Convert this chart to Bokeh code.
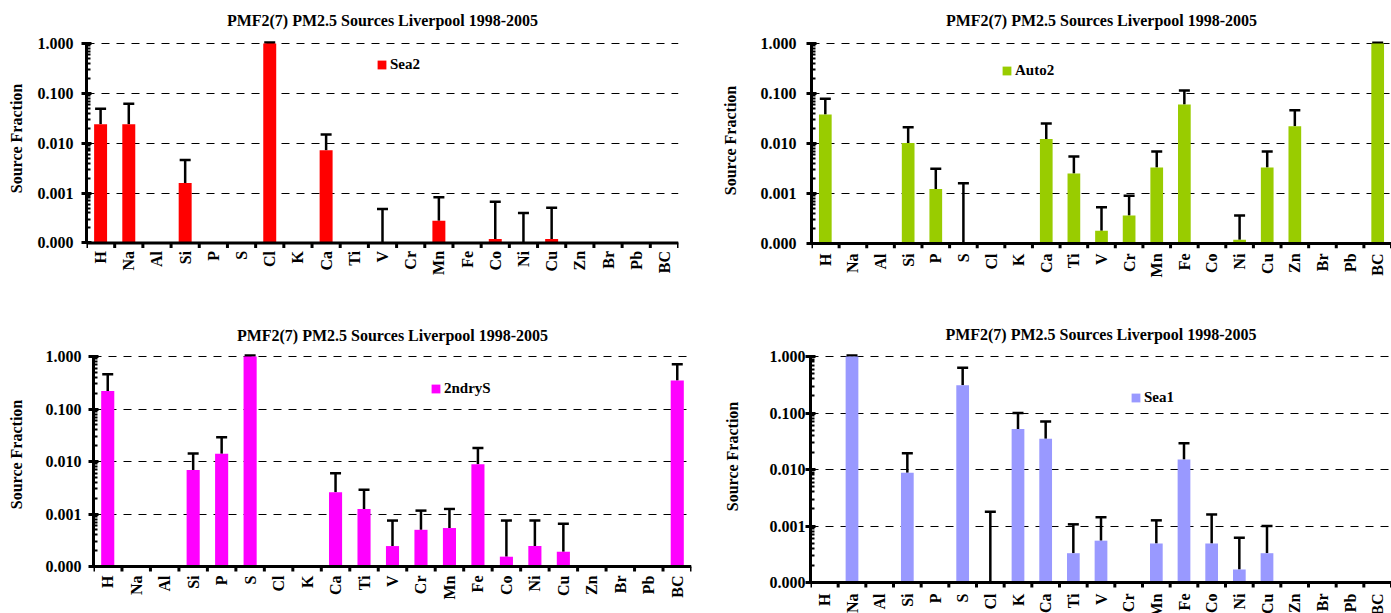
import math
from bokeh.plotting import figure
from bokeh.models import (ColumnDataSource, Whisker, TeeHead, FixedTicker,
                          NumeralTickFormatter, Range1d, Legend, LegendItem, Span)
from bokeh.core.properties import value
from bokeh.layouts import column, row
from bokeh.embed import file_html
from bokeh.resources import INLINE

# ---------------- data ----------------
categories = ["H", "Na", "Al", "Si", "P", "S", "Cl", "K", "Ca", "Ti", "V",
              "Cr", "Mn", "Fe", "Co", "Ni", "Cu", "Zn", "Br", "Pb", "BC"]
title_text = "PMF2(7) PM2.5 Sources Liverpool 1998-2005"
y_label = "Source Fraction"
y_ticks = [0.0001, 0.001, 0.01, 0.1, 1.0]

sea2 = [0.024, 0.024, 0, 0.0016, 0, 0, 1.0, 0, 0.0072, 0, 0,
        0, 0.00028, 0, 0.00012, 0, 0.00012, 0, 0, 0, 0]
sea2_hi = [0.049, 0.062, None, 0.0046, None, None, 1.04, None, 0.015, None, 0.00048,
           None, 0.00083, None, 0.00067, 0.0004, 0.00051, None, None, None, None]

auto2 = [0.038, 0, 0, 0.0102, 0.00122, 0, 0, 0, 0.0123, 0.0025, 0.00018,
         0.00036, 0.0033, 0.06, 0, 0.000118, 0.0033, 0.022, 0, 0, 1.0]
auto2_hi = [0.078, None, None, 0.021, 0.0031, 0.0016, None, None, 0.025, 0.0055, 0.00053,
            0.0009, 0.0069, 0.115, None, 0.00036, 0.0069, 0.046, None, None, 1.03]

ndry_s = [0.22, 0, 0, 0.0069, 0.014, 1.0, 0, 0, 0.0026, 0.00125, 0.000245,
          0.0005, 0.00054, 0.0089, 0.000154, 0.000245, 0.00019, 0, 0, 0, 0.35]
ndry_s_hi = [0.46, None, None, 0.0142, 0.029, 1.04, None, None, 0.006, 0.0029, 0.00075,
             0.00116, 0.00125, 0.018, 0.00075, 0.00075, 0.00065, None, None, None, 0.71]

sea1 = [0, 1.0, 0, 0.0088, 0, 0.31, 0, 0.052, 0.035, 0.00033, 0.00055,
        0, 0.00049, 0.015, 0.00049, 0.00017, 0.00033, 0, 0, 0, 0]
sea1_hi = [None, 1.04, None, 0.0194, None, 0.63, 0.00178, 0.1, 0.071, 0.00107, 0.00143,
           None, 0.00126, 0.029, 0.0016, 0.00062, 0.001, None, None, None, None]

FONT = "Liberation Serif"
Y_MIN, Y_MAX = y_ticks[0], y_ticks[-1]
TOP_PAD = 5  # px of frame kept above the 1.000 line so caps are not clipped


def make_panel(name, values, highs, color, g):
    n = len(categories)
    decades = math.log10(Y_MAX / Y_MIN)
    frame_h = g["h"] - (g["t"] - TOP_PAD)
    px_per_dec = g["main"] / decades
    below_px = frame_h - TOP_PAD - g["main"]
    y_start = Y_MIN / 10 ** (below_px / px_per_dec)
    y_end = Y_MAX * 10 ** (TOP_PAD / px_per_dec)

    p = figure(width=g["w"], height=g["h"], y_axis_type="log",
               x_axis_location=None,
               x_range=Range1d(0, n), y_range=Range1d(y_start, y_end),
               output_backend="svg", toolbar_location=None,
               min_border_left=g["l"], min_border_right=g["r"],
               min_border_top=g["t"] - TOP_PAD, min_border_bottom=0,
               title=title_text)
    p.outline_line_color = None
    p.background_fill_color = "white"
    p.border_fill_color = "white"

    p.title.text_font = FONT
    p.title.text_font_style = "bold"
    p.title.text_font_size = "16px"
    p.title.align = "center"
    p.title.text_color = "black"
    p.title.standoff = g["ts"]

    centers = [i + 0.5 for i in range(n)]
    bounds = [float(i) for i in range(n + 1)]

    xs = [centers[i] for i, v in enumerate(values) if v > 0]
    tops = [v for v in values if v > 0]
    src = ColumnDataSource(dict(x=xs, top=tops))
    bars = p.vbar(x="x", top="top", bottom=Y_MIN, width=0.46, source=src,
                  fill_color=color, line_color=None)

    wb = [centers[i] for i, h in enumerate(highs) if h is not None]
    wl = [max(values[i], Y_MIN) for i, h in enumerate(highs) if h is not None]
    wu = [h for h in highs if h is not None]
    wsrc = ColumnDataSource(dict(base=wb, lower=wl, upper=wu))
    w = Whisker(base="base", lower="lower", upper="upper", source=wsrc,
                dimension="height", line_color="black", line_width=2.5,
                upper_head=TeeHead(size=11, line_color="black", line_width=2.5),
                lower_head=None)
    p.add_layout(w)

    # category axis drawn at the 0.000 level: line, boundary ticks, rotated names
    p.add_layout(Span(location=Y_MIN, dimension="width", line_color="black",
                      line_width=3))
    tick_end = Y_MIN / 10 ** (5 / px_per_dec)
    p.segment(x0=bounds, y0=[Y_MIN] * (n + 1), x1=bounds, y1=[tick_end] * (n + 1),
              line_color="black", line_width=3)
    lsrc = ColumnDataSource(dict(x=centers, y=[Y_MIN] * n, text=categories))
    p.text(x="x", y="y", text="text", source=lsrc, angle=math.pi / 2,
           y_offset=g["xs"], text_align="right", text_baseline="middle",
           text_font=value(FONT), text_font_style="bold",
           text_font_size="16px", text_color="black")

    minors = []
    for t in y_ticks[:-1]:
        minors += [t * k for k in range(2, 10)]
    ya = p.yaxis[0]
    ya.bounds = (Y_MIN, Y_MAX)
    ya.ticker = FixedTicker(ticks=y_ticks, minor_ticks=minors)
    ya.formatter = NumeralTickFormatter(format="0.000")
    ya.major_label_text_font = FONT
    ya.major_label_text_font_style = "bold"
    ya.major_label_text_font_size = "16px"
    ya.major_label_text_color = "black"
    ya.major_label_standoff = g["ys"]
    ya.major_tick_in = 5
    ya.major_tick_out = 5
    ya.major_tick_line_width = 3
    ya.minor_tick_in = 4
    ya.minor_tick_out = 0
    ya.minor_tick_line_width = 2
    ya.axis_line_width = 3
    # the label is centred on the whole frame; leading no-break spaces lift it
    # back over the 0.000-1.000 span of the axis
    ya.axis_label = "\u00a0" * g["lift"] + y_label
    ya.axis_label_text_font = FONT
    ya.axis_label_text_font_style = "bold"
    ya.axis_label_text_font_size = "16px"
    ya.axis_label_text_color = "black"
    ya.axis_label_standoff = g["als"]

    p.xgrid.visible = False
    p.ygrid.grid_line_color = "black"
    p.ygrid.grid_line_dash = "8 7"
    p.ygrid.grid_line_width = 1

    leg = Legend(items=[LegendItem(label=name, renderers=[bars])],
                 location=(g["leg"][0], g["leg"][1] + below_px),
                 padding=g["pad"], margin=0,
                 glyph_width=11, glyph_height=11, label_standoff=3,
                 label_height=18, spacing=0,
                 label_text_font=FONT, label_text_font_style="bold",
                 label_text_font_size="15px", label_text_color="black",
                 border_line_color=None,
                 background_fill_color="white",
                 background_fill_alpha=g["bga"])
    p.add_layout(leg)
    return p


g1 = dict(w=700, h=306, l=86, r=22, t=41, main=201, xs=8, ys=8, als=10, ts=19,
          leg=(290, 169), pad=4, bga=0.0, lift=17)
g2 = dict(w=691, h=306, l=111, r=0, t=39, main=203, xs=10, ys=10, als=19, ts=19,
          leg=(190, 163), pad=4, bga=0.0, lift=16)
g3 = dict(w=700, h=307, l=93, r=9, t=50, main=210, xs=9, ys=7, als=18, ts=16,
          leg=(337, 169), pad=17, bga=1.0, lift=14)
g4 = dict(w=691, h=307, l=110, r=0, t=50, main=226, xs=11, ys=0, als=26, ts=18,
          leg=(320, 176), pad=4, bga=0.0, lift=13)

p1 = make_panel("Sea2", sea2, sea2_hi, "#FF0000", g1)
p2 = make_panel("Auto2", auto2, auto2_hi, "#99CC00", g2)
p3 = make_panel("2ndryS", ndry_s, ndry_s_hi, "#FF00FF", g3)
p4 = make_panel("Sea1", sea1, sea1_hi, "#9999FF", g4)

layout = column(row(column(p1), column(p2)), row(column(p3), column(p4)))
open("out.html", "w").write(file_html(layout, INLINE))
